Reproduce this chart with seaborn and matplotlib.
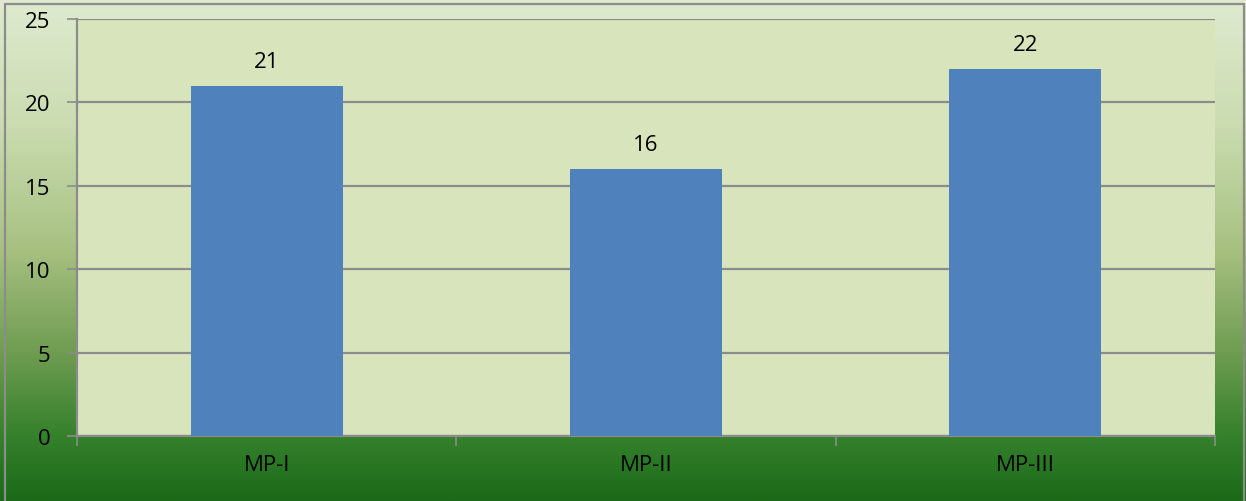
import numpy as np
import pandas as pd
import matplotlib
matplotlib.use("Agg")
import matplotlib.pyplot as plt
from matplotlib.colors import LinearSegmentedColormap
from matplotlib.lines import Line2D
import seaborn as sns

categories = ["MP-I", "MP-II", "MP-III"]
values = [21, 16, 22]
y_ticks = [0, 5, 10, 15, 20, 25]

sns.set_theme(style="white")
plt.rcParams["font.family"] = ["Open Sans", "DejaVu Sans"]
plt.rcParams["text.color"] = "black"
plt.rcParams["xtick.color"] = "black"
plt.rcParams["ytick.color"] = "black"

W, H, DPI = 1246, 502, 100
fig = plt.figure(figsize=(W / DPI, H / DPI), dpi=DPI)

# vertical gradient backdrop for the whole chart area
bg = fig.add_axes([0, 0, 1, 1], zorder=-10)
grad_cmap = LinearSegmentedColormap.from_list(
    "chart_bg",
    [(0.0, "#dfead0"), (0.25, "#cadcb0"), (0.5, "#a7c081"),
     (0.72, "#6a9a4e"), (0.87, "#35812c"), (1.0, "#1c6a19")],
)
bg.imshow(np.linspace(0, 1, 256).reshape(-1, 1), aspect="auto", cmap=grad_cmap,
          extent=[0, 1, 0, 1], origin="upper")
bg.set_axis_off()

# chart frame
frame_kw = dict(color="#8c8c8c", lw=1.6, transform=fig.transFigure)
fig.add_artist(Line2D([5 / W, 5 / W], [0, 1 - 4.5 / H], **frame_kw))
fig.add_artist(Line2D([1244 / W, 1244 / W], [0, 1 - 4.5 / H], **frame_kw))
fig.add_artist(Line2D([5 / W, 1244 / W], [1 - 4.5 / H, 1 - 4.5 / H], **frame_kw))

ax = fig.add_axes([77 / W, 1 - 437 / H, (1215 - 77) / W, (437 - 20) / H])
ax.set_facecolor("#d8e4bc")

df = pd.DataFrame({"cat": categories, "val": values})
sns.barplot(data=df, x="cat", y="val", color="#4f81bd", saturation=1,
            width=0.4, ax=ax, zorder=3, edgecolor="none", linewidth=0)

for i, v in enumerate(values):
    ax.annotate(f"{v}", (i, v), xytext=(0, 10), textcoords="offset points",
                ha="center", va="bottom", fontsize=16, color="black")

ax.set_ylim(0, 25)
ax.set_xlim(-0.5, len(categories) - 0.5)
ax.set_yticks(y_ticks)
ax.yaxis.grid(True, color="#8c8c8c", lw=1.6, zorder=1)
ax.set_axisbelow(True)

ax.set_xlabel("")
ax.set_ylabel("")
ax.tick_params(axis="y", which="major", length=7, width=1.2, color="#8c8c8c",
               labelsize=16, pad=12, left=True, labelcolor="black")
ax.tick_params(axis="x", which="major", length=0, labelsize=16, pad=13,
               labelcolor="black")
ax.set_xticks(np.arange(-0.5, len(categories), 1.0), minor=True)
ax.tick_params(axis="x", which="minor", length=7, width=1.2, color="#8c8c8c",
               bottom=True, direction="out")

for side in ["top", "right"]:
    ax.spines[side].set_visible(False)
for side in ["left", "bottom"]:
    ax.spines[side].set_color("#8c8c8c")
    ax.spines[side].set_linewidth(1.6)

fig.savefig("out.png", dpi=DPI)
